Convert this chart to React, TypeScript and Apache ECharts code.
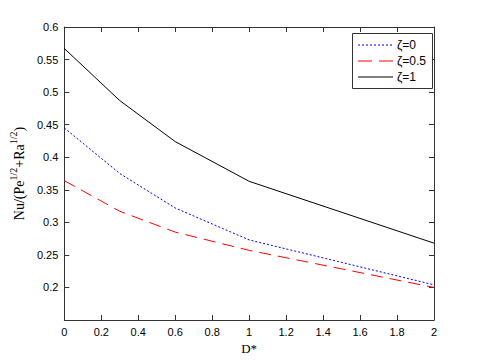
import React, { useEffect, useRef } from "react";
import * as echarts from "echarts";

const dValues = [0, 0.3, 0.6, 1, 2];
const zeta0 = [0.445, 0.375, 0.322, 0.273, 0.204];
const zeta05 = [0.364, 0.317, 0.285, 0.257, 0.2];
const zeta1 = [0.567, 0.487, 0.424, 0.363, 0.268];
const seriesNames = ["ζ=0", "ζ=0.5", "ζ=1"];

export default function App() {
  const ref = useRef<HTMLDivElement>(null);
  useEffect(() => {
    if (!ref.current) return;
    const chart = echarts.init(ref.current, null, { renderer: "svg" });
    const pair = (ys: number[]) => dValues.map((d, i) => [d, ys[i]]);
    const tickFont = { fontFamily: "Liberation Sans, Arial", fontSize: 11, color: "#000" };
    const colors = ["#0000ff", "#ff0000", "#000000"];
    const legendItems: any[] = [];
    seriesNames.forEach((n, i) => {
      const y = 45 + i * 16;
      const style: any = { stroke: colors[i], lineWidth: 1.2 };
      if (i === 0) style.lineDash = [2, 2];
      if (i === 1) style.lineDash = [14, 7];
      legendItems.push({
        type: "line",
        z: 11,
        shape: { x1: 358, y1: y, x2: 393, y2: y },
        style,
      });
      legendItems.push({
        type: "text",
        z: 11,
        x: 397,
        y: y,
        style: { text: n, fill: "#000", font: "12px Liberation Sans, Arial", verticalAlign: "middle" },
      });
    });
    const mirrorAxis = {
      axisLine: { show: true, onZero: false, lineStyle: { color: "#333" } },
      axisTick: { inside: true, length: 5, lineStyle: { color: "#333" } },
      axisLabel: { show: false },
      splitLine: { show: false },
    };
    chart.setOption({
      animation: false,
      backgroundColor: "#fff",
      grid: { left: 63, right: 46, top: 27, bottom: 40 },
      graphic: [
        {
          type: "rect",
          z: 10,
          shape: { x: 352.5, y: 33.5, width: 80, height: 55 },
          style: { fill: "#fff", stroke: "#333", lineWidth: 1 },
        },
        ...legendItems,
      ],
      xAxis: [
        {
          type: "value",
          min: 0,
          max: 2,
          interval: 0.2,
          name: "D*",
          nameLocation: "middle",
          nameGap: 22,
          nameTextStyle: { fontFamily: "Liberation Serif, Times New Roman", fontSize: 13, color: "#000" },
          axisLine: { onZero: false, lineStyle: { color: "#333" } },
          axisTick: { inside: true, length: 5, lineStyle: { color: "#333" } },
          axisLabel: { ...tickFont, margin: 6 },
          splitLine: { show: false },
        },
        { type: "value", position: "top", min: 0, max: 2, interval: 0.2, ...mirrorAxis },
      ],
      yAxis: [
        {
          type: "value",
          min: 0.15,
          max: 0.6,
          interval: 0.05,
          name: "{a|Nu/(Pe}{s|1/2}{a|+Ra}{s|1/2}{a|)}",
          nameLocation: "middle",
          nameGap: 38,
          nameRotate: 90,
          nameTextStyle: {
            rich: {
              a: { fontFamily: "Liberation Serif, Times New Roman", fontSize: 14, color: "#000", verticalAlign: "bottom", lineHeight: 18 },
              s: { fontFamily: "Liberation Serif, Times New Roman", fontSize: 10, color: "#000", verticalAlign: "top", lineHeight: 18, padding: [0, 0, 8, 0] },
            },
          },
          axisLine: { show: true, onZero: false, lineStyle: { color: "#333" } },
          axisTick: { inside: true, length: 5, lineStyle: { color: "#333" } },
          axisLabel: {
            ...tickFont,
            margin: 6,
            showMinLabel: false,
            formatter: (v: number) => String(parseFloat(v.toFixed(2))),
          },
          splitLine: { show: false },
        },
        { type: "value", position: "right", min: 0.15, max: 0.6, interval: 0.05, ...mirrorAxis },
      ],
      series: [
        {
          name: seriesNames[0],
          type: "line",
          data: pair(zeta0),
          symbol: "none",
          lineStyle: { color: colors[0], width: 1, type: [2, 2] },
        },
        {
          name: seriesNames[1],
          type: "line",
          data: pair(zeta05),
          symbol: "none",
          lineStyle: { color: colors[1], width: 1, type: [12, 7] },
        },
        {
          name: seriesNames[2],
          type: "line",
          data: pair(zeta1),
          symbol: "none",
          lineStyle: { color: colors[2], width: 1, type: "solid" },
        },
      ],
    });
    return () => chart.dispose();
  }, []);
  return <div ref={ref} style={{ width: 480, height: 360, position: "absolute", left: 0, top: 0 }} />;
}
